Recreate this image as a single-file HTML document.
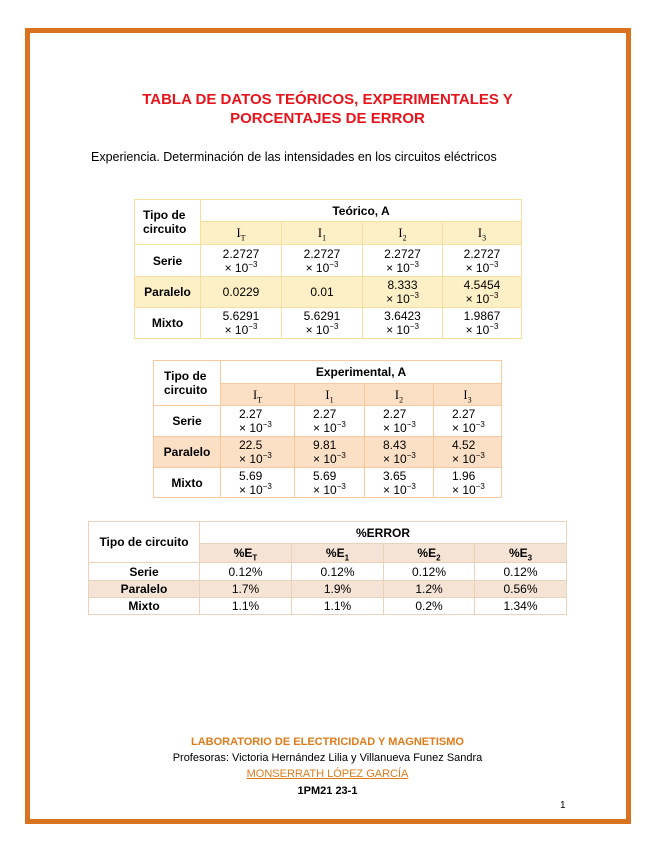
<!DOCTYPE html>
<html><head><meta charset="utf-8"><style>
body{margin:0;width:655px;height:848px;background:#fff;position:relative;font-family:"Liberation Sans",sans-serif;overflow:hidden}
.frame{position:absolute;left:25px;top:28px;width:596px;height:786px;border:5px solid #d9731f}
.abs{position:absolute}
table{border-collapse:collapse;table-layout:fixed;position:absolute}
td{padding:0;font-size:12px;text-align:center;vertical-align:middle;line-height:14px}
.b{font-weight:bold}
.s{font-family:"Liberation Serif",serif;font-size:12.5px}
sup,sub{font-size:8px;line-height:0}
#t1 td{border:1px solid #f7dfa0}
#t1 .h{background:#fdefc6}
#t2 td{border:1px solid #f7c99c}
#t2 .h{background:#fce0c6}
#t2 td.v{text-align:left;padding-left:18px}
#t3 td{border:1px solid #ead2bb}
#t3 .h{background:#f5e4d5}
</style></head><body>
<div class="frame"></div>
<div class="abs b" style="left:0;width:655px;top:90px;text-align:center;color:#e8141c;font-size:15px;line-height:19px">TABLA DE DATOS TEÓRICOS, EXPERIMENTALES Y<br>PORCENTAJES DE ERROR</div>
<div class="abs" style="left:91px;top:150px;font-size:12.5px">Experiencia. Determinación de las intensidades en los circuitos eléctricos</div>

<table id="t1" style="left:134px;top:199px;width:387px">
<colgroup><col style="width:66px"><col style="width:81px"><col style="width:81px"><col style="width:80px"><col style="width:79px"></colgroup>
<tr style="height:22px"><td rowspan="2" class="b" style="text-align:left;padding-left:8px">Tipo de<br>circuito</td><td colspan="4" class="b">Teórico, A</td></tr>
<tr style="height:23px" class="h"><td class="s h">I<sub>T</sub></td><td class="s h">I<sub>1</sub></td><td class="s h">I<sub>2</sub></td><td class="s h">I<sub>3</sub></td></tr>
<tr style="height:32px"><td class="b">Serie</td><td>2.2727<br>× 10<sup>−3</sup></td><td>2.2727<br>× 10<sup>−3</sup></td><td>2.2727<br>× 10<sup>−3</sup></td><td>2.2727<br>× 10<sup>−3</sup></td></tr>
<tr style="height:31px" class="h"><td class="b h">Paralelo</td><td class="h">0.0229</td><td class="h">0.01</td><td class="h">8.333<br>× 10<sup>−3</sup></td><td class="h">4.5454<br>× 10<sup>−3</sup></td></tr>
<tr style="height:31px"><td class="b">Mixto</td><td>5.6291<br>× 10<sup>−3</sup></td><td>5.6291<br>× 10<sup>−3</sup></td><td>3.6423<br>× 10<sup>−3</sup></td><td>1.9867<br>× 10<sup>−3</sup></td></tr>
</table>

<table id="t2" style="left:153px;top:360px;width:348px">
<colgroup><col style="width:67px"><col style="width:74px"><col style="width:70px"><col style="width:69px"><col style="width:68px"></colgroup>
<tr style="height:23px"><td rowspan="2" class="b" style="text-align:left;padding-left:10px">Tipo de<br>circuito</td><td colspan="4" class="b">Experimental, A</td></tr>
<tr style="height:22px"><td class="s h">I<sub>T</sub></td><td class="s h">I<sub>1</sub></td><td class="s h">I<sub>2</sub></td><td class="s h">I<sub>3</sub></td></tr>
<tr style="height:31px"><td class="b">Serie</td><td class="v">2.27<br>× 10<sup>−3</sup></td><td class="v">2.27<br>× 10<sup>−3</sup></td><td class="v">2.27<br>× 10<sup>−3</sup></td><td class="v">2.27<br>× 10<sup>−3</sup></td></tr>
<tr style="height:31px"><td class="b h">Paralelo</td><td class="v h">22.5<br>× 10<sup>−3</sup></td><td class="v h">9.81<br>× 10<sup>−3</sup></td><td class="v h">8.43<br>× 10<sup>−3</sup></td><td class="v h">4.52<br>× 10<sup>−3</sup></td></tr>
<tr style="height:30px"><td class="b">Mixto</td><td class="v">5.69<br>× 10<sup>−3</sup></td><td class="v">5.69<br>× 10<sup>−3</sup></td><td class="v">3.65<br>× 10<sup>−3</sup></td><td class="v">1.96<br>× 10<sup>−3</sup></td></tr>
</table>

<table id="t3" style="left:88px;top:521px;width:478px">
<colgroup><col style="width:111px"><col style="width:92px"><col style="width:92px"><col style="width:91px"><col style="width:92px"></colgroup>
<tr style="height:22px"><td rowspan="2" class="b">Tipo de circuito</td><td colspan="4" class="b">%ERROR</td></tr>
<tr style="height:19px"><td class="b h">%E<sub>T</sub></td><td class="b h">%E<sub>1</sub></td><td class="b h">%E<sub>2</sub></td><td class="b h">%E<sub>3</sub></td></tr>
<tr style="height:18px"><td class="b">Serie</td><td>0.12%</td><td>0.12%</td><td>0.12%</td><td>0.12%</td></tr>
<tr style="height:17px"><td class="b h">Paralelo</td><td class="h">1.7%</td><td class="h">1.9%</td><td class="h">1.2%</td><td class="h">0.56%</td></tr>
<tr style="height:17px"><td class="b">Mixto</td><td>1.1%</td><td>1.1%</td><td>0.2%</td><td>1.34%</td></tr>
</table>

<div class="abs b" style="left:0;width:655px;top:736px;text-align:center;color:#e07b1a;font-size:11px">LABORATORIO DE ELECTRICIDAD Y MAGNETISMO</div>
<div class="abs" style="left:0;width:655px;top:752px;text-align:center;font-size:11px">Profesoras: Victoria Hernández Lilia y Villanueva Funez Sandra</div>
<div class="abs" style="left:0;width:655px;top:768px;text-align:center;font-size:11px;color:#e07b1a;text-decoration:underline">MONSERRATH LÓPEZ GARCÍA</div>
<div class="abs b" style="left:0;width:655px;top:785px;text-align:center;font-size:11px">1PM21 23-1</div>
<div class="abs" style="left:560px;top:800px;font-size:10px">1</div>
</body></html>
